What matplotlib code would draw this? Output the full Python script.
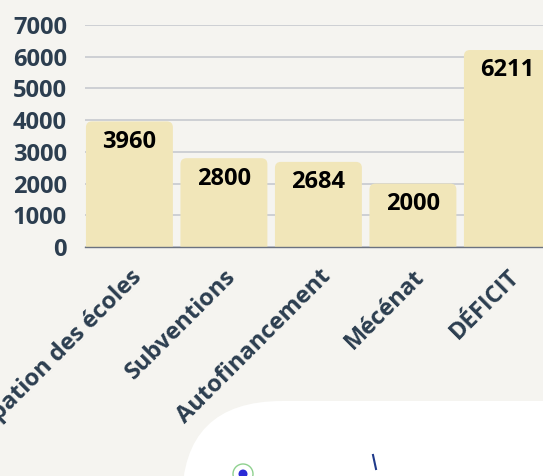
import matplotlib
matplotlib.use("Agg")
import matplotlib.pyplot as plt
from matplotlib.patches import FancyBboxPatch, Circle
from matplotlib.lines import Line2D
from matplotlib.transforms import IdentityTransform

categories = ["Participation des écoles", "Subventions", "Autofinancement", "Mécénat", "DÉFICIT"]
values = [3960, 2800, 2684, 2000, 6211]
yticks = [0, 1000, 2000, 3000, 4000, 5000, 6000, 7000]

BG = "#f5f4f0"
BAR = "#f1e6b9"
NAVY = "#2c3e50"

plt.rcParams['font.family'] = ['Open Sans', 'DejaVu Sans']

W, H = 543, 476
fig = plt.figure(figsize=(W / 100, H / 100), dpi=100, facecolor=BG)

# decorative white rounded panel at bottom right
panel = FancyBboxPatch((182, -250), 700, 325, boxstyle="round,pad=0,rounding_size=100",
                       transform=IdentityTransform(), facecolor="white", edgecolor="none", zorder=0)
fig.patches.append(panel)
fig.patches.append(Circle((243, 2), 10, transform=IdentityTransform(), facecolor="white",
                          edgecolor="#8fd18f", lw=1, zorder=1))
fig.patches.append(Circle((243, 2), 4.5, transform=IdentityTransform(), facecolor="#2a2ad6",
                          edgecolor="none", zorder=2))
fig.lines.append(Line2D([373, 376], [21, 7], transform=IdentityTransform(), color="#1f3a8a",
                        lw=1.5, zorder=2))

slot = 94.5
xmin, xmax = -0.47, 4.62
left_px = 85
bottom_px = H - 247
top_px = H - 25
ax = fig.add_axes([left_px / W, bottom_px / H, (xmax - xmin) * slot / W, (top_px - bottom_px) / H])
ax.set_facecolor("none")
ax.set_xlim(xmin, xmax)
ax.set_ylim(0, 7000)

# rounded-top bars
bw = 0.92
yunits_per_px = 7000 / (top_px - bottom_px)
xunits_per_px = 1 / slot
aspect = yunits_per_px / xunits_per_px
for i, v in enumerate(values):
    p = FancyBboxPatch((i - bw / 2, -400), bw, v + 400,
                       boxstyle="round,pad=0,rounding_size=%f" % (6 * xunits_per_px),
                       mutation_aspect=aspect, facecolor=BAR, edgecolor="none", zorder=2)
    ax.add_patch(p)
    ax.annotate(str(v), (i, v), xytext=(0, -6), textcoords="offset points",
                ha="center", va="top", fontsize=17, fontweight="bold", color="black", zorder=3)

ax.set_yticks(yticks)
ax.set_yticklabels([str(t) for t in yticks])
ax.grid(axis="y", color="#cdcfd4", lw=1.4, zorder=0)
ax.set_axisbelow(True)
ax.tick_params(axis="y", length=0, pad=13, labelsize=17, labelcolor=NAVY)
for lab in ax.get_yticklabels():
    lab.set_fontweight("bold")

ax.set_xticks(range(len(categories)))
ax.set_xticklabels(categories, rotation=45, ha="right", rotation_mode="anchor",
                   fontsize=17, fontweight="bold", color=NAVY)
ax.tick_params(axis="x", length=0, pad=13)

for s in ["top", "right", "left"]:
    ax.spines[s].set_visible(False)
ax.spines["bottom"].set_color("#6b7280")
ax.spines["bottom"].set_linewidth(1)

fig.savefig("out.png", dpi=100, facecolor=BG)
